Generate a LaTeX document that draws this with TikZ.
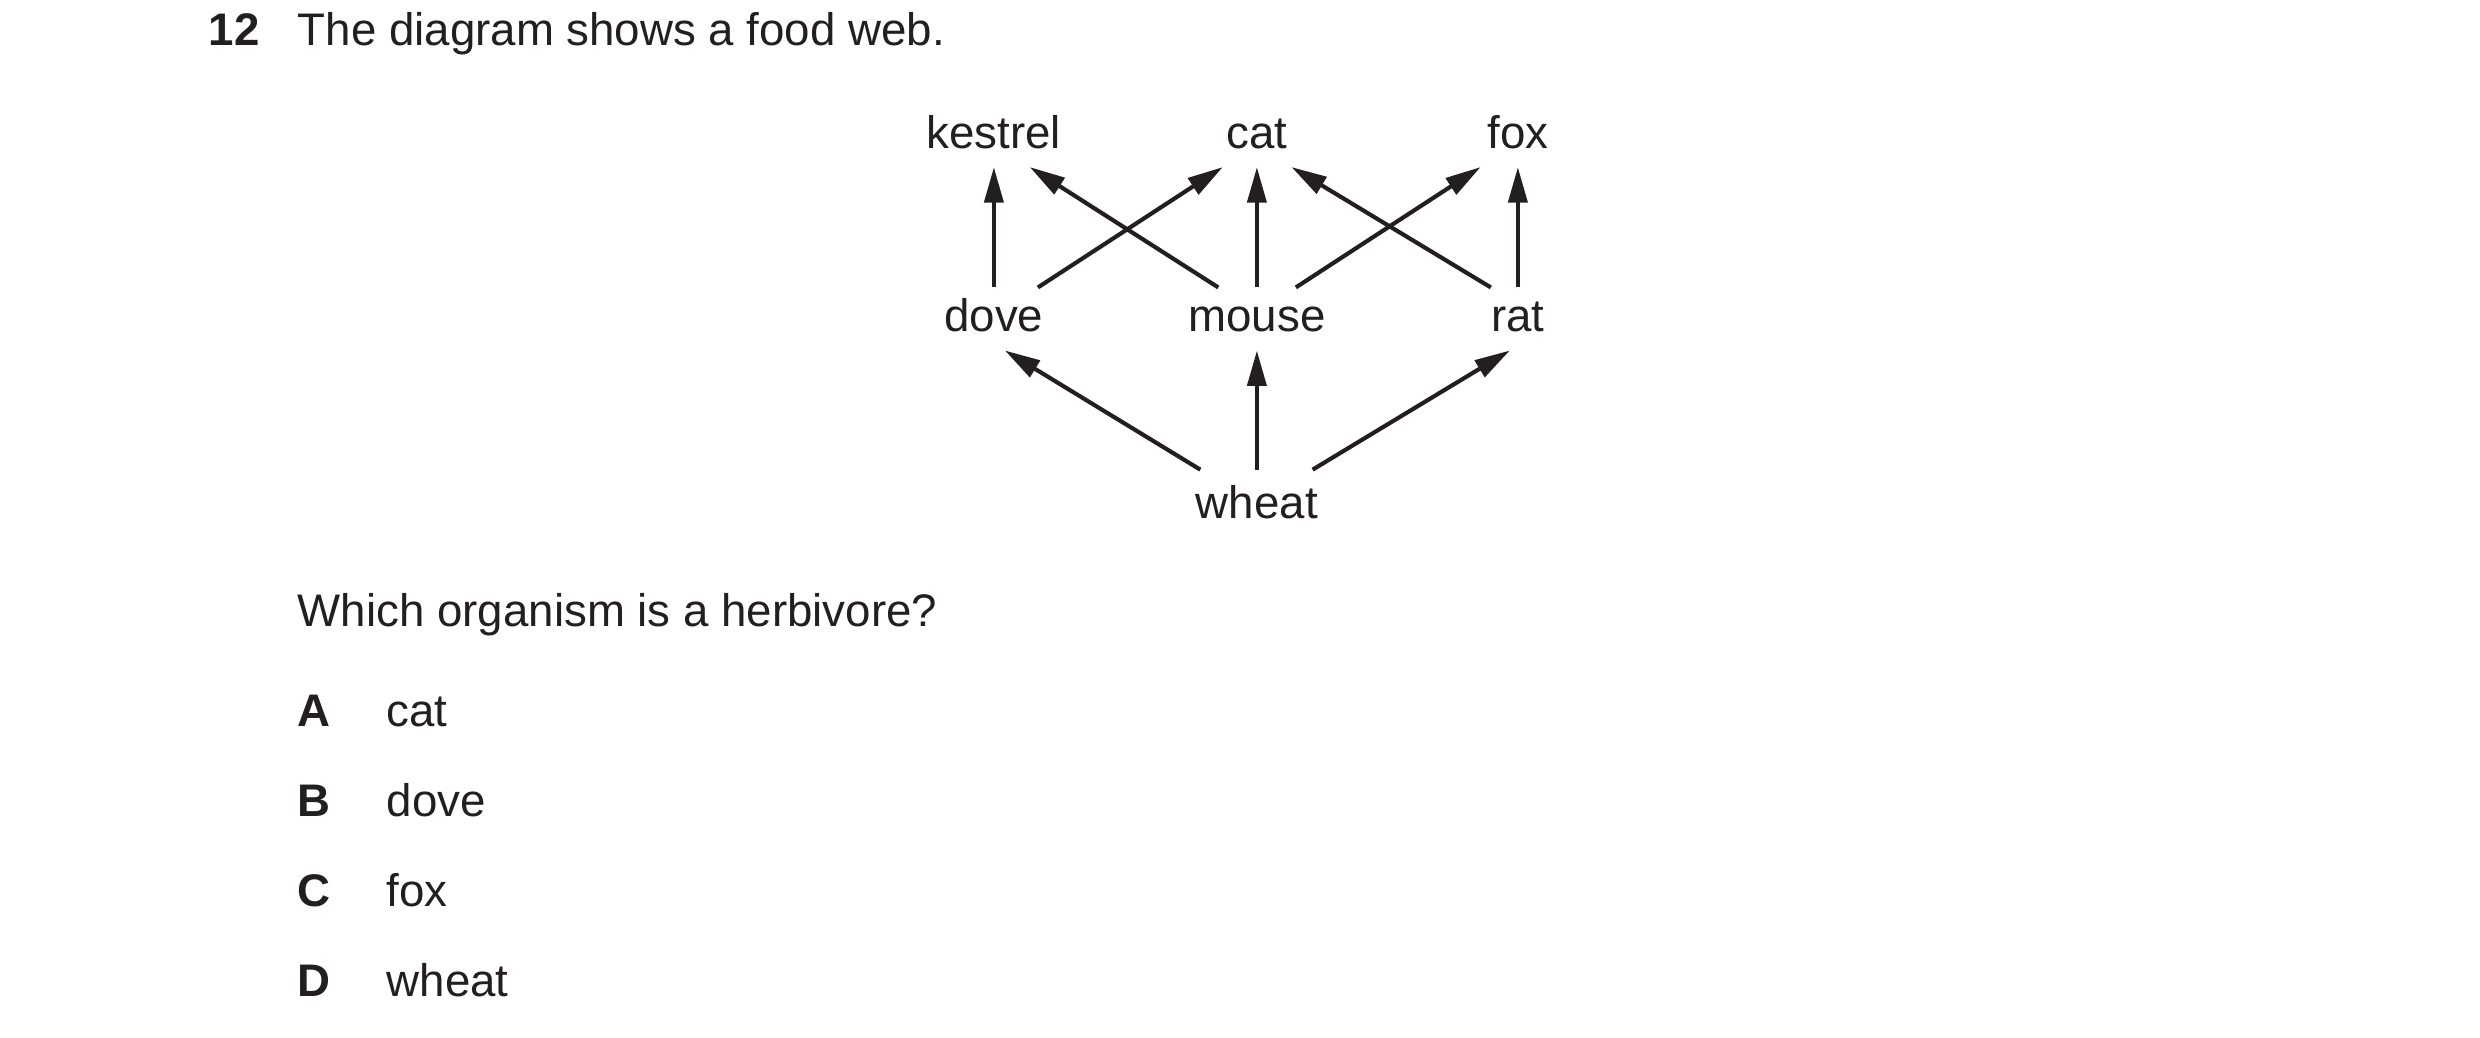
\documentclass[tikz,border=0pt]{standalone}
\usepackage{fontspec}
\setmainfont{Liberation Sans}
\usetikzlibrary{arrows.meta}
\definecolor{ink}{HTML}{231F20}
\begin{document}
\begin{tikzpicture}[
      organism/.style={font=\fontsize{11}{13}\selectfont, text=ink, anchor=base, inner xsep=0pt, inner ysep=.09cm, text height=.28cm, text depth=.06cm},
      feeds/.style={draw=ink, line width=1pt, -{Triangle[length=.3cm,width=.16cm]}},
      qtext/.style={font=\fontsize{11}{13}\selectfont, text=ink, anchor=base west, inner sep=0pt},
      qbold/.style={qtext, font=\fontsize{11}{13}\selectfont\bfseries}]
      \useasboundingbox (0,0) rectangle (21,8.788);
      \node [qbold] (qnum) at (1.761,8.399) {12};
      \node [qtext] (stem) at (2.515,8.399) {The diagram shows a food web.};
      \node [organism] (kestrel) at (8.416,7.530) {kestrel};
      \node [organism] (cat) at (10.643,7.530) {cat};
      \node [organism] (fox) at (12.853,7.530) {fox};
      \node [organism] (dove) at (8.416,5.977) {dove};
      \node [organism] (mouse) at (10.643,5.977) {mouse};
      \node [organism] (rat) at (12.853,5.977) {rat};
      \node [organism, text height=.32cm] (wheat) at (10.643,4.394) {wheat};
      \draw [feeds] (dove.north) -- (kestrel.south);
      \draw [feeds] ([xshift=.373cm]dove.north) -- ([xshift=-.289cm]cat.south);
      \draw [feeds] ([xshift=-.327cm]mouse.north) -- ([xshift=.304cm]kestrel.south);
      \draw [feeds] (mouse.north) -- (cat.south);
      \draw [feeds] ([xshift=.33cm]mouse.north) -- ([xshift=-.316cm]fox.south);
      \draw [feeds] ([xshift=-.229cm]rat.north) -- ([xshift=.293cm]cat.south);
      \draw [feeds] (rat.north) -- (fox.south);
      \draw [feeds] ([xshift=-.479cm]wheat.north) -- ([xshift=.093cm]dove.south);
      \draw [feeds] (wheat.north) -- (mouse.south);
      \draw [feeds] ([xshift=.472cm]wheat.north) -- ([xshift=-.068cm]rat.south);
      \node [qtext] (ask) at (2.515,3.480) {Which organism is a herbivore?};
      \node [qbold] (optA) at (2.515,2.633) {A};
      \node [qtext] (ansA) at (3.268,2.633) {cat};
      \node [qbold] (optB) at (2.515,1.871) {B};
      \node [qtext] (ansB) at (3.268,1.871) {dove};
      \node [qbold] (optC) at (2.515,1.109) {C};
      \node [qtext] (ansC) at (3.268,1.109) {fox};
      \node [qbold] (optD) at (2.515,.347) {D};
      \node [qtext] (ansD) at (3.268,.347) {wheat};
    \end{tikzpicture}
\end{document}
